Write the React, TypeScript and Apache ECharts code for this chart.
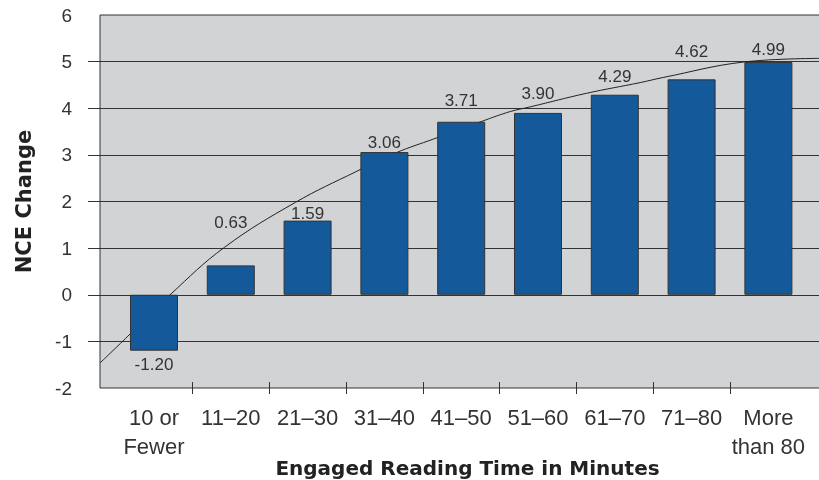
import React, { useEffect, useRef } from "react";
import * as echarts from "echarts";

const categories = [
  "10 or\nFewer",
  "11–20",
  "21–30",
  "31–40",
  "41–50",
  "51–60",
  "61–70",
  "71–80",
  "More\nthan 80",
];
const nceChange = [-1.2, 0.63, 1.59, 3.06, 3.71, 3.9, 4.29, 4.62, 4.99];

// trend curve (x in category units, y in NCE change)
const trendX = [-0.7, -0.31, 0.21, 0.92, 1.84, 2.63, 3.16, 3.64, 4.27, 4.64, 4.9, 5.63, 6.33, 6.63, 7.67, 8.7];
const trendY = [-1.46, -0.84, 0.0, 1.02, 1.98, 2.64, 3.05, 3.34, 3.72, 3.93, 4.03, 4.32, 4.55, 4.66, 4.99, 5.07];

const yTickValues = [-1, 0, 1, 2, 3, 4, 5];
const xBoundaries = [0.5, 1.5, 2.5, 3.5, 4.5, 5.5, 6.5, 7.5];

// label vertical nudges (style only)
const labelShift = [0, -29, 6, 4, -8, -6, -5, -14, 1];

const FONT = "Liberation Sans, Arial, Helvetica, sans-serif";
const BOLD_FONT = "DejaVu Sans, Liberation Sans, Arial, sans-serif";

export default function App() {
  const ref = useRef<HTMLDivElement>(null);
  useEffect(() => {
    if (!ref.current) return;
    const chart = echarts.init(ref.current, null, { renderer: "svg" });
    const catIdx = categories.map((_, i) => i);
    chart.setOption({
      animation: false,
      textStyle: { fontFamily: FONT },
      grid: {
        left: 100,
        right: -2,
        top: 15,
        bottom: 92,
        show: true,
        backgroundColor: "#d1d3d4",
        borderColor: "#333",
        borderWidth: 1,
        outerBoundsMode: "none",
        containLabel: false,
      },
      xAxis: {
        type: "value",
        min: -0.703,
        max: 8.685,
        offset: -6,
        axisLine: { show: false, onZero: false },
        splitLine: { show: false },
        axisTick: {
          show: true,
          customValues: xBoundaries,
          length: 12,
          lineStyle: { color: "#333", width: 1 },
        },
        axisLabel: {
          customValues: catIdx,
          formatter: (v: number) => categories[Math.round(v)],
          fontSize: 22,
          lineHeight: 29,
          color: "#333",
          margin: 21,
          fontFamily: FONT,
        },
        name: "Engaged Reading Time in Minutes",
        nameLocation: "middle",
        nameGap: 76,
        nameMoveOverlap: false,
        nameTextStyle: {
          fontSize: 20,
          fontWeight: "bold",
          color: "#222",
          fontFamily: BOLD_FONT,
          padding: [0, 0, 0, 14],
        },
      },
      yAxis: {
        type: "value",
        min: -2,
        max: 6,
        interval: 1,
        axisLine: { show: false, onZero: false },
        axisTick: {
          show: true,
          customValues: yTickValues,
          length: 12,
          lineStyle: { color: "#333", width: 1 },
        },
        axisLabel: { fontSize: 19, color: "#333", margin: 28, fontFamily: FONT },
        splitLine: { show: true, lineStyle: { color: "#333", width: 1 } },
        name: "NCE Change",
        nameLocation: "middle",
        nameGap: 66,
        nameMoveOverlap: false,
        nameTextStyle: { fontSize: 21, fontWeight: "bold", color: "#222", fontFamily: BOLD_FONT },
      },
      series: [
        {
          type: "line",
          z: 1,
          data: trendX.map((x, i) => [x, trendY[i]]),
          smooth: 0.4,
          showSymbol: false,
          symbol: "none",
          lineStyle: { color: "#222", width: 1 },
          silent: true,
        },
        {
          type: "bar",
          z: 2,
          barWidth: 48,
          data: nceChange.map((v, i) => ({
            value: [i, v],
            label: { position: v < 0 ? "bottom" : "top", offset: [0, labelShift[i]] },
          })),
          itemStyle: { color: "#14599a", borderColor: "#333", borderWidth: 1 },
          label: {
            show: true,
            fontSize: 17,
            color: "#333",
            fontFamily: FONT,
            distance: 5,
            formatter: (p: any) => Number(p.value[1]).toFixed(2),
          },
        },
      ],
    });
    return () => chart.dispose();
  }, []);
  return (
    <div
      ref={ref}
      style={{ position: "fixed", left: 0, top: 0, width: 819, height: 480 }}
    />
  );
}
